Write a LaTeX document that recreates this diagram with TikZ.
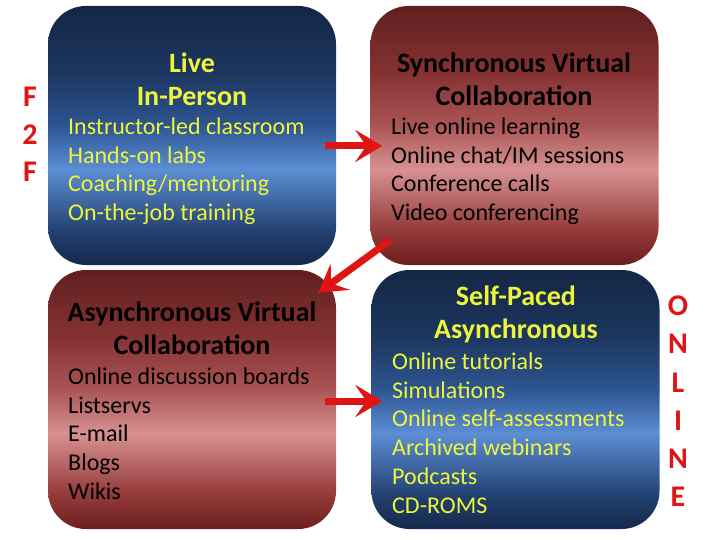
\documentclass[tikz,border=0pt]{standalone}
\usepackage{fontspec}
\setmainfont{Carlito}
\usetikzlibrary{arrows.meta,calc}
\definecolor{ylw}{RGB}{238,245,60}
\definecolor{rd}{RGB}{225,20,20}
\pgfdeclareverticalshading{bluesh}{100bp}{%
 rgb(0bp)=(0.086,0.165,0.298);
 rgb(25bp)=(0.086,0.165,0.298);
 rgb(31bp)=(0.125,0.243,0.424);
 rgb(43.5bp)=(0.361,0.557,0.831);
 rgb(52bp)=(0.176,0.333,0.569);
 rgb(62bp)=(0.110,0.216,0.373);
 rgb(75bp)=(0.078,0.149,0.267);
 rgb(100bp)=(0.078,0.149,0.267)}
\pgfdeclareverticalshading{redsh}{100bp}{%
 rgb(0bp)=(0.424,0.118,0.118);
 rgb(25bp)=(0.424,0.118,0.118);
 rgb(32bp)=(0.588,0.235,0.235);
 rgb(43.5bp)=(0.843,0.569,0.569);
 rgb(52bp)=(0.667,0.333,0.333);
 rgb(62bp)=(0.529,0.196,0.196);
 rgb(75bp)=(0.373,0.125,0.125);
 rgb(100bp)=(0.373,0.125,0.125)}
\tikzset{
 box/.style={shade, rounded corners=38pt, minimum width=288pt, minimum height=259pt, inner sep=0pt},
 bluebox/.style={box, shading=bluesh},
 redbox/.style={box, shading=redsh},
 ttl/.style={font=\bfseries\fontsize{28}{33}\selectfont, align=center, inner sep=0pt},
 item/.style={font=\fontsize{24}{29}\selectfont, anchor=west, inner sep=0pt, text height=15pt, text depth=4pt},
 side/.style={font=\bfseries\fontsize{30}{34}\selectfont, text=rd, inner sep=0pt},
 arr/.style={draw=rd, line width=7pt, -{Stealth[length=27pt, width=32pt, inset=11pt]}}
}
\begin{document}
\begin{tikzpicture}[x=1pt,y=-1pt]
\useasboundingbox (0,0) rectangle (720,540);
% boxes
\node[bluebox] (tl) at (192,135.5) {};
\node[redbox]  (tr) at (514.5,135.5) {};
\node[redbox]  (bl) at (192,399.5) {};
\node[bluebox] (br) at (515.5,399.5) {};
% titles
\node[ttl, text=ylw] (tlt) at (192,79) {Live\\In-Person};
\node[ttl, text=black] (trt) at (514,79) {Synchronous Virtual\\Collaboration};
\node[ttl, text=black] (blt) at (192,328) {Asynchronous Virtual\\Collaboration};
\node[ttl, text=ylw] (brt) at (516,314) {Self-Paced\\Asynchronous};
% items
\foreach \t [count=\i] in {Instructor-led classroom,Hands-on labs,Coaching/mentoring,On-the-job training}
  \node[item, text=ylw] (tl\i) at (68,{129+28.7*(\i-1)}) {\t};
\foreach \t [count=\i] in {Live online learning,Online chat/IM sessions,Conference calls,Video conferencing}
  \node[item, text=black] (tr\i) at (391,{129+28.7*(\i-1)}) {\t};
\foreach \t [count=\i] in {Online discussion boards,Listservs,E-mail,Blogs,Wikis}
  \node[item, text=black] (bl\i) at (68,{379+28.7*(\i-1)}) {\t};
\foreach \t [count=\i] in {Online tutorials,Simulations,Online self-assessments,Archived webinars,Podcasts,CD-ROMS}
  \node[item, text=ylw] (br\i) at (392,{364+28.7*(\i-1)}) {\t};
% side letters
\foreach \t [count=\i] in {F,2,F}
  \node[side] (f\i) at (30,{97+37.5*(\i-1)}) {\t};
\foreach \t [count=\i] in {O,N,L,I,N,E}
  \node[side] (o\i) at (678,{306+38.2*(\i-1)}) {\t};
% arrows
\draw[arr] ([shift={(-11,10.5)}]tl.east) -- ([shift={(12,10.5)}]tr.west);
\draw[arr] ([shift={(20,-25)}]tr.south west) -- ([shift={(-18,23)}]bl.north east);
\draw[arr] ([shift={(-11,1.5)}]bl.east) -- ([shift={(11,1.5)}]br.west);
\end{tikzpicture}
\end{document}
